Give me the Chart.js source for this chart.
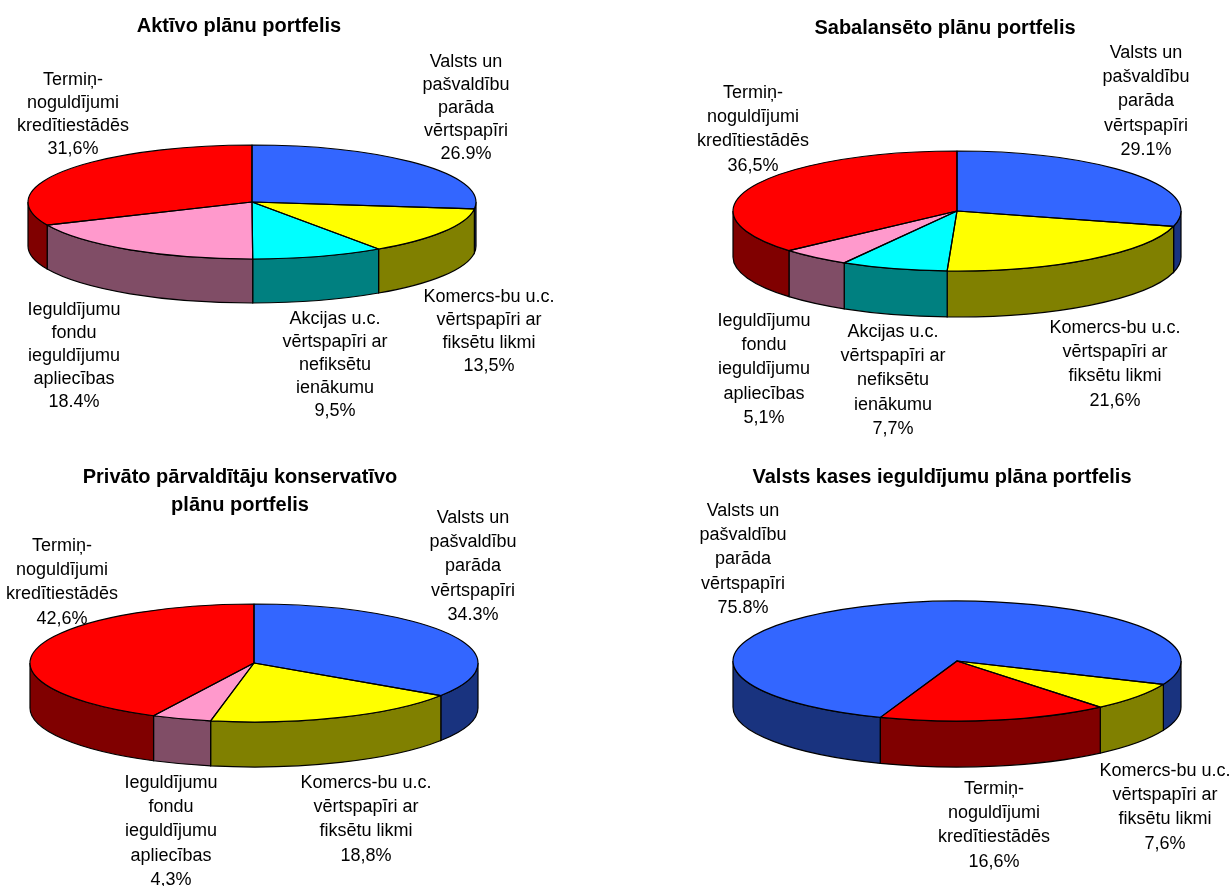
<!DOCTYPE html>
<html>
<head>
<meta charset="utf-8">
<title>Pensiju plānu portfeļi</title>
<script src="https://cdn.jsdelivr.net/npm/chart.js@4/dist/chart.umd.min.js"></script>
<style>
html, body { margin: 0; padding: 0; background: #fff; overflow: hidden; width: 1231px; height: 886px; }
canvas { position: absolute; }
</style>
</head>
<body>
<script>
// kategorijas
const labelValsts = 'Valsts un\npašvaldību\nparāda\nvērtspapīri';
const labelKomerc = 'Komercs-bu u.c.\nvērtspapīri ar\nfiksētu likmi';
const labelAkcijas = 'Akcijas u.c.\nvērtspapīri ar\nnefiksētu\nienākumu';
const labelFondi = 'Ieguldījumu\nfondu\nieguldījumu\napliecības';
const labelTermin = 'Termiņ-\nnoguldījumi\nkredītiestādēs';

// krāsas
const cBlue = '#3366ff', cYellow = '#ffff00', cCyan = '#00ffff', cPink = '#ff99cc', cRed = '#ff0000';
const sideColor = { [cBlue]: '#19337f', [cYellow]: '#808000', [cCyan]: '#008080', [cPink]: '#804d66', [cRed]: '#800000' };

// 1. Aktīvo plānu portfelis
const aktivoCats = [labelValsts, labelKomerc, labelAkcijas, labelFondi, labelTermin];
const aktivoVals = [26.9, 13.5, 9.5, 18.4, 31.6];
const aktivoText = ['26.9%', '13,5%', '9,5%', '18.4%', '31,6%'];
const aktivoColors = [cBlue, cYellow, cCyan, cPink, cRed];

// 2. Sabalansēto plānu portfelis
const sabalCats = [labelValsts, labelKomerc, labelAkcijas, labelFondi, labelTermin];
const sabalVals = [29.1, 21.6, 7.7, 5.1, 36.5];
const sabalText = ['29.1%', '21,6%', '7,7%', '5,1%', '36,5%'];
const sabalColors = [cBlue, cYellow, cCyan, cPink, cRed];

// 3. Privāto pārvaldītāju konservatīvo plānu portfelis
const privCats = [labelValsts, labelKomerc, labelFondi, labelTermin];
const privVals = [34.3, 18.8, 4.3, 42.6];
const privText = ['34.3%', '18,8%', '4,3%', '42,6%'];
const privColors = [cBlue, cYellow, cPink, cRed];

// 4. Valsts kases ieguldījumu plāna portfelis
const kasesCats = [labelValsts, labelKomerc, labelTermin];
const kasesVals = [75.8, 7.6, 16.6];
const kasesText = ['75.8%', '7,6%', '16,6%'];
const kasesColors = [cBlue, cYellow, cRed];

const FONT = '"Liberation Sans", Arial, sans-serif';

// izkārtojums: panelis, elipse, uzrakstu vietas (centrs x, pirmās rindas centrs y), rindas solis
const panels = [
  { title: 'Aktīvo plānu portfelis', cats: aktivoCats, vals: aktivoVals, text: aktivoText, colors: aktivoColors,
    left: -81, top: 0, w: 640, h: 442, padTop: 14, titleLine: 1.2, rotation: 0,
    cx: 252, cy: 202, r: 224, ry: 57, depth: 44, step: 23,
    labelAt: [[466, 61], [489, 296], [335, 318], [74, 309], [73, 79]] },
  { title: 'Sabalansēto plānu portfelis', cats: sabalCats, vals: sabalVals, text: sabalText, colors: sabalColors,
    left: 645, top: 0, w: 600, h: 442, padTop: 16, titleLine: 1.2, rotation: 0,
    cx: 957, cy: 211, r: 224, ry: 60, depth: 46, step: 24.2,
    labelAt: [[1146, 52], [1115, 327], [893, 331], [764, 320], [753, 92]] },
  { title: ['Privāto pārvaldītāju konservatīvo', 'plānu portfelis'], cats: privCats, vals: privVals, text: privText, colors: privColors,
    left: -80, top: 450, w: 640, h: 436, padTop: 13, titleLine: 1.4, rotation: 0,
    cx: 254, cy: 663, r: 224, ry: 59, depth: 45, step: 24.2,
    labelAt: [[473, 517], [366, 782], [171, 782], [62, 545]] },
  { title: 'Valsts kases ieguldījumu plāna portfelis', cats: kasesCats, vals: kasesVals, text: kasesText, colors: kasesColors,
    left: 642, top: 450, w: 600, h: 436, padTop: 15, titleLine: 1.2, rotation: 200,
    cx: 957, cy: 661, r: 224, ry: 60, depth: 46, step: 24.2,
    labelAt: [[743, 510], [1165, 770], [994, 788]] }
];

// redzamās sānu sienas daļas (leņķi 0..PI apakšā)
function visibleParts(start, end) {
  const parts = [];
  for (let k = -1; k <= 2; k++) {
    const a = Math.max(start, 2 * Math.PI * k);
    const b = Math.min(end, 2 * Math.PI * k + Math.PI);
    if (b > a) parts.push([a, b]);
  }
  return parts;
}

// pīrāgs saspiests pa vertikāli + sienas + kontūras + uzraksti
const tiltPlugin = {
  id: 'tilt',
  beforeDatasetsDraw(chart, args, opts) {
    const p = opts.panel, ctx = chart.ctx;
    const x0 = p.cx - p.left, y0 = p.cy - p.top;
    const arcs = chart.getDatasetMeta(0).data;
    ctx.save();
    ctx.lineWidth = 1.2;
    ctx.strokeStyle = '#000';
    arcs.forEach((arc, i) => {
      visibleParts(arc.startAngle, arc.endAngle).forEach(([a, b]) => {
        ctx.beginPath();
        ctx.ellipse(x0, y0, arc.outerRadius, p.ry, 0, a, b);
        ctx.ellipse(x0, y0 + p.depth, arc.outerRadius, p.ry, 0, b, a, true);
        ctx.closePath();
        ctx.fillStyle = sideColor[p.colors[i]];
        ctx.fill();
        ctx.stroke();
      });
    });
    ctx.restore();
    const k = p.ry / arcs[0].outerRadius;
    ctx.save();
    ctx.translate(x0, y0);
    ctx.scale(1, k);
    ctx.translate(-arcs[0].x, -arcs[0].y);
  },
  afterDatasetsDraw(chart, args, opts) {
    const p = opts.panel, ctx = chart.ctx;
    ctx.restore();
    const x0 = p.cx - p.left, y0 = p.cy - p.top;
    ctx.save();
    ctx.lineWidth = 1.2;
    ctx.strokeStyle = '#000';
    ctx.lineJoin = 'round';
    chart.getDatasetMeta(0).data.forEach(arc => {
      ctx.beginPath();
      ctx.moveTo(x0, y0);
      ctx.ellipse(x0, y0, arc.outerRadius, p.ry, 0, arc.startAngle, arc.endAngle);
      ctx.closePath();
      ctx.stroke();
    });
    // uzraksti
    ctx.fillStyle = '#000';
    ctx.font = '18px ' + FONT;
    ctx.textAlign = 'center';
    ctx.textBaseline = 'middle';
    p.cats.forEach((cat, i) => {
      const lines = cat.split('\n').concat(p.text[i]);
      lines.forEach((line, n) => {
        ctx.fillText(line, p.labelAt[i][0] - p.left, p.labelAt[i][1] - p.top + 1 + n * p.step);
      });
    });
    ctx.restore();
  }
};

panels.forEach(p => {
  const canvas = document.createElement('canvas');
  canvas.style.left = p.left + 'px';
  canvas.style.top = p.top + 'px';
  canvas.style.width = p.w + 'px';
  canvas.style.height = p.h + 'px';
  canvas.width = p.w;
  canvas.height = p.h;
  document.body.appendChild(canvas);

  new Chart(canvas.getContext('2d'), {
    type: 'pie',
    data: {
      labels: p.cats,
      datasets: [{
        data: p.vals,
        backgroundColor: p.colors,
        borderWidth: 0,
        clip: false
      }]
    },
    options: {
      responsive: false,
      animation: false,
      radius: p.r,
      rotation: p.rotation,
      layout: { padding: { top: p.padTop } },
      plugins: {
        legend: { display: false },
        tooltip: { enabled: false },
        title: {
          display: true,
          text: p.title,
          color: '#000',
          padding: 0,
          font: { family: FONT, size: 20, weight: 'bold', lineHeight: p.titleLine }
        },
        tilt: { panel: p }
      }
    },
    plugins: [tiltPlugin]
  });
});
</script>
</body>
</html>
